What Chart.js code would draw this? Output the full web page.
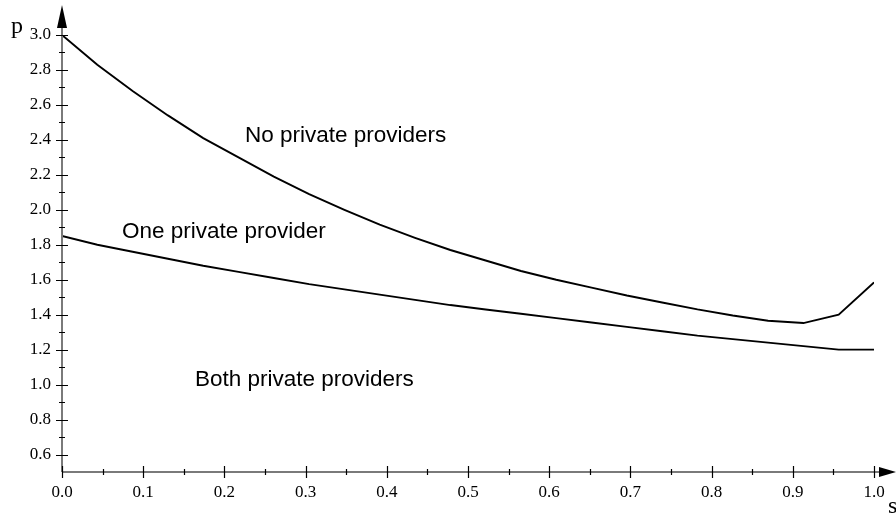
<!DOCTYPE html>
<html>
<head>
<meta charset="utf-8">
<script src="https://cdn.jsdelivr.net/npm/chart.js@4.4.1/dist/chart.umd.min.js"></script>
<style>
  html, body { margin: 0; padding: 0; background: #fff; }
  canvas { display: block; }
</style>
</head>
<body>
<canvas id="c" width="896" height="514"></canvas>
<script>
// ---- data ----
const sValues = [0, 1/23, 2/23, 3/23, 4/23, 5/23, 6/23, 7/23, 8/23, 9/23, 10/23, 11/23,
                 12/23, 13/23, 14/23, 15/23, 16/23, 17/23, 18/23, 19/23, 20/23, 21/23, 22/23, 1];
const noPrivate = [3.00, 2.83, 2.68, 2.54, 2.41, 2.30, 2.19, 2.09, 2.00, 1.915, 1.84, 1.77,
                   1.71, 1.65, 1.60, 1.555, 1.51, 1.47, 1.43, 1.395, 1.365, 1.352, 1.40, 1.585];
const onePrivate = [1.85, 1.80, 1.76, 1.72, 1.68, 1.645, 1.61, 1.575, 1.545, 1.515, 1.485, 1.455,
                    1.43, 1.405, 1.38, 1.355, 1.33, 1.305, 1.28, 1.26, 1.24, 1.22, 1.20, 1.20];
const xTickLabels = [0.0, 0.1, 0.2, 0.3, 0.4, 0.5, 0.6, 0.7, 0.8, 0.9, 1.0];
const xMinorTicks = [0.05, 0.15, 0.25, 0.35, 0.45, 0.55, 0.65, 0.75, 0.85, 0.95];
const yTickLabels = [0.6, 0.8, 1.0, 1.2, 1.4, 1.6, 1.8, 2.0, 2.2, 2.4, 2.6, 2.8, 3.0];
const yMinorTicks = [0.7, 0.9, 1.1, 1.3, 1.5, 1.7, 1.9, 2.1, 2.3, 2.5, 2.7, 2.9];
const regionLabels = ["No private providers", "One private provider", "Both private providers"];
const regionAnchorS = [0.2254, 0.0739, 0.1638];
const regionAnchorP = [2.389, 1.84, 0.99];
const xAxisTitle = "s";
const yAxisTitle = "p";

const toPts = (xs, ys) => xs.map((x, i) => ({ x: x, y: ys[i] }));

const axesPlugin = {
  id: 'axesPlugin',
  afterDraw(chart) {
    const ctx = chart.ctx;
    const xs = chart.scales.x, ys = chart.scales.y;
    const x0 = xs.getPixelForValue(0);
    const y0 = ys.getPixelForValue(0.5);
    ctx.save();
    // axis lines
    ctx.strokeStyle = '#7a7a7a';
    ctx.lineWidth = 2;
    ctx.beginPath();
    ctx.moveTo(x0, y0); ctx.lineTo(884, y0);
    ctx.moveTo(x0, y0); ctx.lineTo(x0, 20);
    ctx.stroke();
    // ticks
    ctx.strokeStyle = '#000';
    ctx.lineWidth = 1.2;
    ctx.beginPath();
    xTickLabels.forEach(v => { const p = Math.round(xs.getPixelForValue(v)) + 0.5; ctx.moveTo(p, y0 - 6); ctx.lineTo(p, y0 + 6); });
    xMinorTicks.forEach(v => { const p = Math.round(xs.getPixelForValue(v)) + 0.5; ctx.moveTo(p, y0 - 3); ctx.lineTo(p, y0 + 3); });
    yTickLabels.forEach(v => { const p = Math.round(ys.getPixelForValue(v)) + 0.5; ctx.moveTo(x0 - 6, p); ctx.lineTo(x0 + 6, p); });
    yMinorTicks.forEach(v => { const p = Math.round(ys.getPixelForValue(v)) + 0.5; ctx.moveTo(x0 - 3, p); ctx.lineTo(x0 + 3, p); });
    ctx.stroke();
    // arrows
    ctx.fillStyle = '#000';
    ctx.beginPath();
    ctx.moveTo(x0, 5); ctx.lineTo(x0 - 5, 28); ctx.lineTo(x0 + 5, 28); ctx.closePath();
    ctx.fill();
    ctx.beginPath();
    ctx.moveTo(896, y0); ctx.lineTo(879, y0 - 5); ctx.lineTo(879, y0 + 5); ctx.closePath();
    ctx.fill();
    // axis titles
    ctx.font = '24px "Liberation Serif"';
    ctx.textBaseline = 'alphabetic';
    ctx.textAlign = 'left';
    ctx.fillText(yAxisTitle, 11, 33);
    ctx.fillText(xAxisTitle, 888, 513);
    // region labels
    ctx.font = '22.5px "Liberation Sans"';
    regionLabels.forEach((t, i) => {
      ctx.fillText(t, xs.getPixelForValue(regionAnchorS[i]), ys.getPixelForValue(regionAnchorP[i]));
    });
    ctx.restore();
  }
};

new Chart(document.getElementById('c'), {
  type: 'line',
  data: {
    datasets: [
      { data: toPts(sValues, noPrivate), borderColor: '#000', borderWidth: 1.9, pointRadius: 0, tension: 0, fill: false },
      { data: toPts(sValues, onePrivate), borderColor: '#000', borderWidth: 1.9, pointRadius: 0, tension: 0, fill: false }
    ]
  },
  options: {
    responsive: false,
    animation: false,
    devicePixelRatio: 1,
    layout: { padding: { left: 0, top: 35, right: 22, bottom: 0 } },
    plugins: { legend: { display: false }, tooltip: { enabled: false } },
    scales: {
      x: {
        type: 'linear', min: 0, max: 1,
        grid: { display: false, drawTicks: false }, border: { display: false },
        afterBuildTicks: s => { s.ticks = xTickLabels.map(v => ({ value: v })); },
        afterFit: s => { s.height = 42; },
        ticks: { autoSkip: false, maxRotation: 0, padding: 10, color: '#000',
                 font: { family: 'Liberation Serif', size: 17 },
                 callback: v => Number(v).toFixed(1) }
      },
      y: {
        type: 'linear', min: 0.5, max: 3.0,
        grid: { display: false, drawTicks: false }, border: { display: false },
        afterBuildTicks: s => { s.ticks = yTickLabels.map(v => ({ value: v })); },
        afterFit: s => { s.width = 62; },
        ticks: { autoSkip: false, padding: 11, color: '#000',
                 font: { family: 'Liberation Serif', size: 17 },
                 callback: v => Number(v).toFixed(1) }
      }
    }
  },
  plugins: [axesPlugin]
});
</script>
</body>
</html>
